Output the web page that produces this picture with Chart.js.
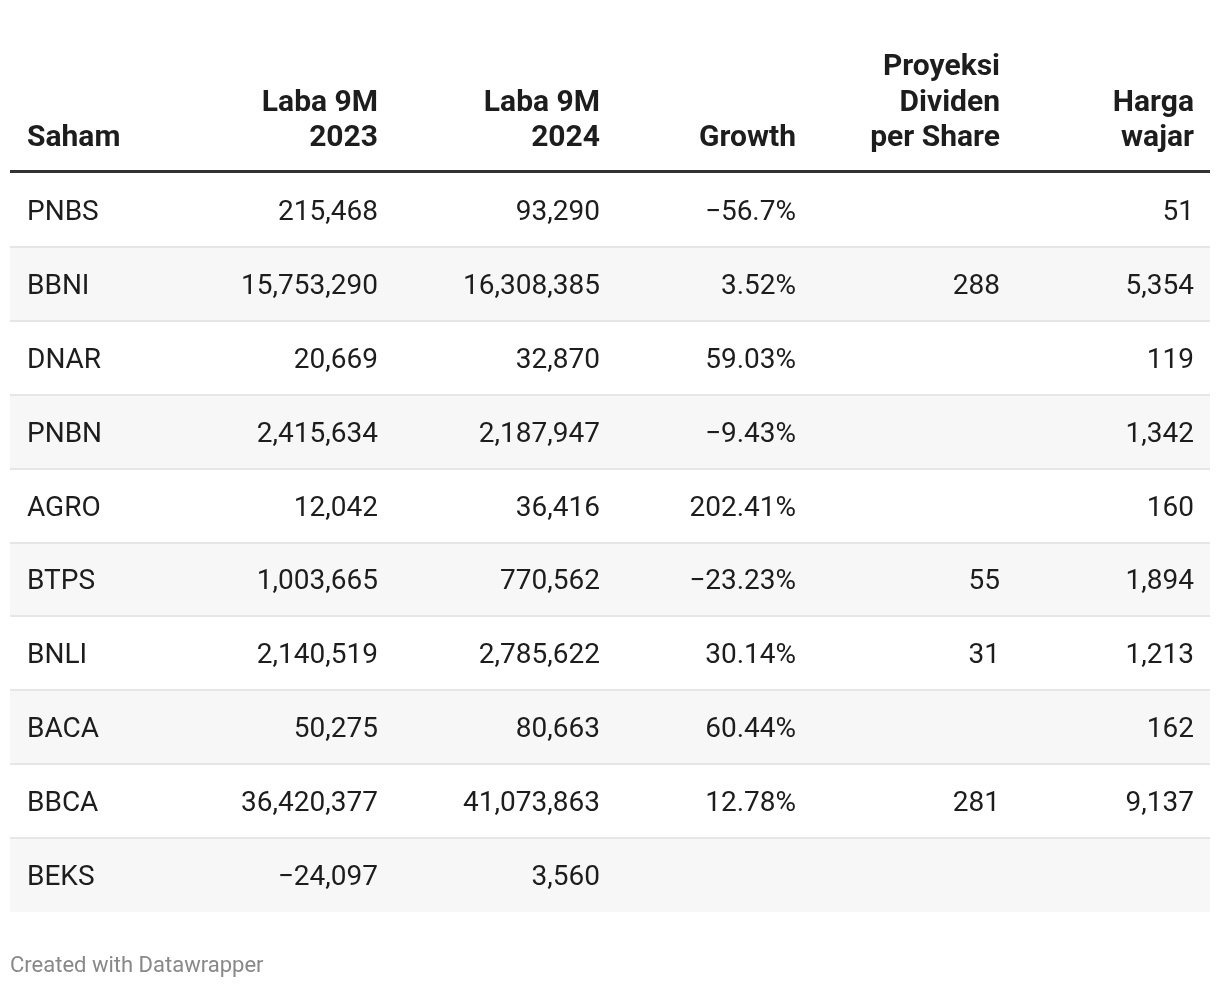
<!DOCTYPE html>
<html>
<head>
<meta charset="utf-8">
<script src="https://cdn.jsdelivr.net/npm/chart.js@4.4.1/dist/chart.umd.min.js"></script>
<style>
  html, body { margin: 0; padding: 0; background: #ffffff; }
  #wrap { width: 1220px; height: 988px; position: relative; }
</style>
</head>
<body>
<div id="wrap"><canvas id="tableChart"></canvas></div>
<script>
// Table data
const tickers = ['PNBS', 'BBNI', 'DNAR', 'PNBN', 'AGRO', 'BTPS', 'BNLI', 'BACA', 'BBCA', 'BEKS'];
const laba2023 = [215468, 15753290, 20669, 2415634, 12042, 1003665, 2140519, 50275, 36420377, -24097];
const laba2024 = [93290, 16308385, 32870, 2187947, 36416, 770562, 2785622, 80663, 41073863, 3560];
const growth = [-56.7, 3.52, 59.03, -9.43, 202.41, -23.23, 30.14, 60.44, 12.78, null];
const dividen = [null, 288, null, null, null, 55, 31, null, 281, null];
const hargaWajar = [51, 5354, 119, 1342, 160, 1894, 1213, 162, 9137, null];

const headers = [
  ['Saham'],
  ['Laba 9M', '2023'],
  ['Laba 9M', '2024'],
  ['Growth'],
  ['Proyeksi', 'Dividen', 'per Share'],
  ['Harga', 'wajar']
];

// column anchors on the x scale (0..1200 = table width)
const colAnchor = [17, 368, 590, 786, 990, 1184];
const colAlign = ['left', 'right', 'right', 'right', 'right', 'right'];

const FONT = "Roboto, 'Noto Sans', sans-serif";
const textColor = '#1d1d1d';

function fmtNum(v) {
  if (v === null || v === undefined) return '';
  const s = Math.abs(v).toLocaleString('en-US');
  return (v < 0 ? '\u2212' : '') + s;
}
function fmtPct(v) {
  if (v === null || v === undefined) return '';
  return (v < 0 ? '\u2212' : '') + String(Math.abs(v)) + '%';
}

const columns = [
  tickers,
  laba2023.map(fmtNum),
  laba2024.map(fmtNum),
  growth.map(fmtPct),
  dividen.map(fmtNum),
  hargaWajar.map(fmtNum)
];

// zebra stripes: every second row gets a full-width floating bar
const stripes = tickers.map((t, i) => (i % 2 === 1 ? [0, 1200] : null));

const tablePlugin = {
  id: 'tablePlugin',
  beforeDraw(chart) {
    const ctx = chart.ctx;
    ctx.save();
    ctx.fillStyle = '#ffffff';
    ctx.fillRect(0, 0, chart.width, chart.height);
    ctx.restore();
  },
  afterDatasetsDraw(chart) {
    const ctx = chart.ctx;
    const x = chart.scales.x;
    const y = chart.scales.y;
    const area = chart.chartArea;
    const rowH = (area.bottom - area.top) / tickers.length;

    ctx.save();
    // row separators
    ctx.fillStyle = '#e6e6e6';
    for (let i = 1; i < tickers.length; i++) {
      const yy = y.getPixelForValue(i) - rowH / 2;
      ctx.fillRect(area.left, Math.round(yy) - 1, area.right - area.left, 2);
    }
    // header rule
    ctx.fillStyle = '#333333';
    ctx.fillRect(area.left, area.top - 3, area.right - area.left, 3);

    // header text
    ctx.font = 'bold 30px ' + FONT;
    ctx.fillStyle = textColor;
    ctx.textBaseline = 'alphabetic';
    const lastBase = area.top - 27;
    const lh = 35.5;
    headers.forEach((lines, c) => {
      ctx.textAlign = colAlign[c];
      const px = x.getPixelForValue(colAnchor[c]);
      lines.forEach((ln, k) => {
        const by = lastBase - (lines.length - 1 - k) * lh;
        ctx.fillText(ln, px, by);
      });
    });

    // body cells
    ctx.font = '28px ' + FONT;
    ctx.textBaseline = 'middle';
    columns.forEach((col, c) => {
      ctx.textAlign = colAlign[c];
      const px = x.getPixelForValue(colAnchor[c]);
      col.forEach((val, r) => {
        if (!val) return;
        ctx.fillText(val, px, y.getPixelForValue(r) + 3);
      });
    });

    // footer
    ctx.font = '22px ' + FONT;
    ctx.fillStyle = '#888888';
    ctx.textAlign = 'left';
    ctx.textBaseline = 'alphabetic';
    ctx.fillText('Created with Datawrapper', 10, 972);
    ctx.restore();
  }
};

new Chart(document.getElementById('tableChart').getContext('2d'), {
  type: 'bar',
  data: {
    labels: tickers,
    datasets: [{
      data: stripes,
      backgroundColor: '#f7f7f7',
      borderWidth: 0,
      barPercentage: 1,
      categoryPercentage: 1
    }]
  },
  options: {
    indexAxis: 'y',
    responsive: true,
    maintainAspectRatio: false,
    animation: false,
    layout: { padding: { top: 173, bottom: 76, left: 10, right: 10 } },
    plugins: { legend: { display: false }, tooltip: { enabled: false } },
    scales: {
      x: { display: false, min: 0, max: 1200 },
      y: { display: false, offset: true, grid: { display: false } }
    }
  },
  plugins: [tablePlugin]
});
</script>
</body>
</html>
